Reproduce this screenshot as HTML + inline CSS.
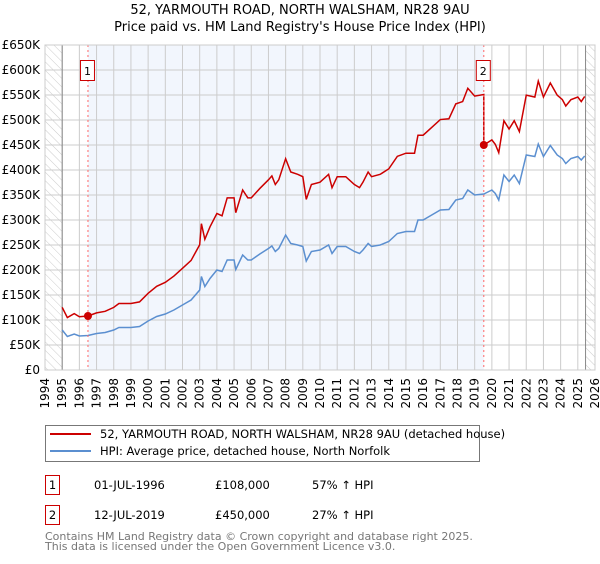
<!DOCTYPE html>
<html><head><meta charset="utf-8"><style>
body{margin:0;background:#fff;font-family:"DejaVu Sans","Liberation Sans",sans-serif;}
svg text{font-family:"DejaVu Sans","Liberation Sans",sans-serif;}
</style></head><body>
<svg id="chart" width="600" height="560" viewBox="0 0 600 560" xmlns="http://www.w3.org/2000/svg">
<defs><pattern id="hatch" width="6" height="6" patternUnits="userSpaceOnUse" patternTransform="rotate(-45)"><line x1="0" y1="0" x2="0" y2="6" stroke="#ccc" stroke-width="1"/></pattern></defs>
<text x="300" y="14" text-anchor="middle" font-size="13">52, YARMOUTH ROAD, NORTH WALSHAM, NR28 9AU</text>
<text x="300" y="31" text-anchor="middle" font-size="13">Price paid vs. HM Land Registry's House Price Index (HPI)</text>
<g id="plot"></g>
<g>
<rect x="45.5" y="425.5" width="434" height="36" fill="#fff" stroke="#777"/>
<line x1="50" y1="434" x2="91" y2="434" stroke="#cc0000" stroke-width="2"/>
<text x="100" y="438" font-size="11.5">52, YARMOUTH ROAD, NORTH WALSHAM, NR28 9AU (detached house)</text>
<line x1="50" y1="451" x2="91" y2="451" stroke="#5b8fd0" stroke-width="2"/>
<text x="100" y="455" font-size="11.5">HPI: Average price, detached house, North Norfolk</text>
</g>
<g font-size="11.5">
<rect x="45.5" y="475.5" width="14" height="19" fill="#fff" stroke="#cc0000"/>
<text x="52.5" y="489" text-anchor="middle">1</text>
<text x="94" y="489">01-JUL-1996</text><text x="215" y="489">£108,000</text><text x="312" y="489">57% ↑ HPI</text>
<rect x="45.5" y="505.5" width="14" height="19" fill="#fff" stroke="#cc0000"/>
<text x="52.5" y="519" text-anchor="middle">2</text>
<text x="94" y="519">12-JUL-2019</text><text x="215" y="519">£450,000</text><text x="312" y="519">27% ↑ HPI</text>
</g>
<text x="45" y="540" font-size="11" fill="#777">Contains HM Land Registry data © Crown copyright and database right 2025.</text>
<text x="45" y="550" font-size="11" fill="#777">This data is licensed under the Open Government Licence v3.0.</text>
</svg>
<script>
const hpiYears=[1995.0,1995.3,1995.7,1996.0,1996.5,1997.0,1997.5,1998.0,1998.3,1999.0,1999.5,2000.0,2000.5,2001.0,2001.5,2002.0,2002.5,2003.0,2003.1,2003.3,2003.6,2004.0,2004.3,2004.6,2005.0,2005.1,2005.5,2005.8,2006.0,2006.5,2007.0,2007.2,2007.4,2007.6,2008.0,2008.3,2008.7,2009.0,2009.2,2009.5,2010.0,2010.5,2010.7,2011.0,2011.5,2012.0,2012.3,2012.5,2012.8,2013.0,2013.5,2014.0,2014.5,2015.0,2015.5,2015.7,2016.0,2016.5,2017.0,2017.5,2017.9,2018.3,2018.6,2019.0,2019.53,2020.0,2020.2,2020.4,2020.7,2021.0,2021.3,2021.6,2022.0,2022.5,2022.7,2023.0,2023.4,2023.8,2024.1,2024.3,2024.6,2025.0,2025.2,2025.4];
const hpiValues=[80,67,72,68,69,73,75,80,85,85,87,98,107,112,120,130,140,160,187,167,183,200,197,220,220,201,230,220,220,232,243,248,237,243,270,253,250,247,218,237,240,250,233,247,247,237,233,240,253,247,250,257,273,277,277,300,300,310,320,321,340,343,360,350,352,360,353,340,390,377,390,373,430,427,452,427,449,430,423,413,423,427,420,428];
const saleYears=[1996.5,2019.53];
const salePrices=[108,450];
const yTicks=[0,50,100,150,200,250,300,350,400,450,500,550,600,650];
const yTickLabels=["£0","£50K","£100K","£150K","£200K","£250K","£300K","£350K","£400K","£450K","£500K","£550K","£600K","£650K"];
const xTicks=[1994,1995,1996,1997,1998,1999,2000,2001,2002,2003,2004,2005,2006,2007,2008,2009,2010,2011,2012,2013,2014,2015,2016,2017,2018,2019,2020,2021,2022,2023,2024,2025,2026];

const X0=45,X1=595,Y0=370,Y1=45;
const xs=t=>X0+(t-1994)/(2026-1994)*(X1-X0);
const ys=v=>Y0-v/650*(Y0-Y1);
const NS="http://www.w3.org/2000/svg";
const g=document.getElementById('plot');
function mk(tag,attrs,parent){const e=document.createElementNS(NS,tag);for(const k in attrs)e.setAttribute(k,attrs[k]);(parent||g).appendChild(e);return e;}
function hpiAt(t){for(let i=1;i<hpiYears.length;i++){if(t<=hpiYears[i]){const f=(t-hpiYears[i-1])/(hpiYears[i]-hpiYears[i-1]);return hpiValues[i-1]+f*(hpiValues[i]-hpiValues[i-1]);}}return hpiValues[hpiValues.length-1];}

const shade=mk('rect',{x:xs(saleYears[0]),y:Y1,width:xs(saleYears[1])-xs(saleYears[0]),height:Y0-Y1,fill:'#f2f6fd'});


const hl=mk('rect',{x:X0,y:Y1,width:xs(1995)-X0,height:Y0-Y1,fill:'url(#hatch)'});


const hr=mk('rect',{x:xs(2025.45),y:Y1,width:X1-xs(2025.45),height:Y0-Y1,fill:'url(#hatch)'});



xTicks.forEach(t=>{
  const l=mk('line',{x1:xs(t),x2:xs(t),y1:Y1,y2:Y0,stroke:'#ccc','stroke-width':1});
  
  
  const tx=mk('text',{x:0,y:0,'font-size':12,'text-anchor':'end',transform:`translate(${xs(t)+4},${Y0+8}) rotate(-90)`});
  tx.textContent=t;
  
  
});
yTicks.forEach((v,i)=>{
  const l=mk('line',{x1:X0,x2:X1,y1:ys(v),y2:ys(v),stroke:'#ccc','stroke-width':1});
  
  
  const tx=mk('text',{x:40,y:ys(v)+4,'font-size':12,'text-anchor':'end'});
  tx.textContent=yTickLabels[i];
  
  
});
[1995,2025.45].forEach(t=>{const l=mk('line',{x1:xs(t),x2:xs(t),y1:Y1,y2:Y0,stroke:'#888','stroke-width':1});

});

const blue=mk('polyline',{points:hpiYears.map((t,i)=>xs(t)+','+ys(hpiValues[i])).join(' '),fill:'none',stroke:'#5b8fd0','stroke-width':1.5});



const r1=salePrices[0]/hpiAt(saleYears[0]), r2=salePrices[1]/hpiAt(saleYears[1]);
let pts=[];
hpiYears.forEach((t,i)=>{ if(t<saleYears[1]) pts.push(xs(t)+','+ys(hpiValues[i]*r1)); });
pts.push(xs(saleYears[1])+','+ys(hpiAt(saleYears[1])*r1));
pts.push(xs(saleYears[1])+','+ys(salePrices[1]));
hpiYears.forEach((t,i)=>{ if(t>saleYears[1]) pts.push(xs(t)+','+ys(hpiValues[i]*r2)); });
const red=mk('polyline',{points:pts.join(' '),fill:'none',stroke:'#cc0000','stroke-width':1.5});



saleYears.forEach((t,i)=>{
  const vl=mk('line',{x1:xs(t),x2:xs(t),y1:Y1,y2:Y0,stroke:'#ff6666','stroke-width':1,'stroke-dasharray':'2,3'});
  
  
  const c=mk('circle',{cx:xs(t),cy:ys(salePrices[i]),r:4,fill:'#cc0000'});
  
  
  const b=mk('rect',{x:xs(t)-7.5,y:60.5,width:14,height:20,fill:'#fff',stroke:'#cc0000'});
  
  
  const tx=mk('text',{x:xs(t)-0.5,y:75,'font-size':11,'text-anchor':'middle'});
  tx.textContent=String(i+1);
  
  
});
const fr=mk('rect',{x:X0,y:Y1,width:X1-X0,height:Y0-Y1,fill:'none',stroke:'#ccc'});


</script>
</body></html>
